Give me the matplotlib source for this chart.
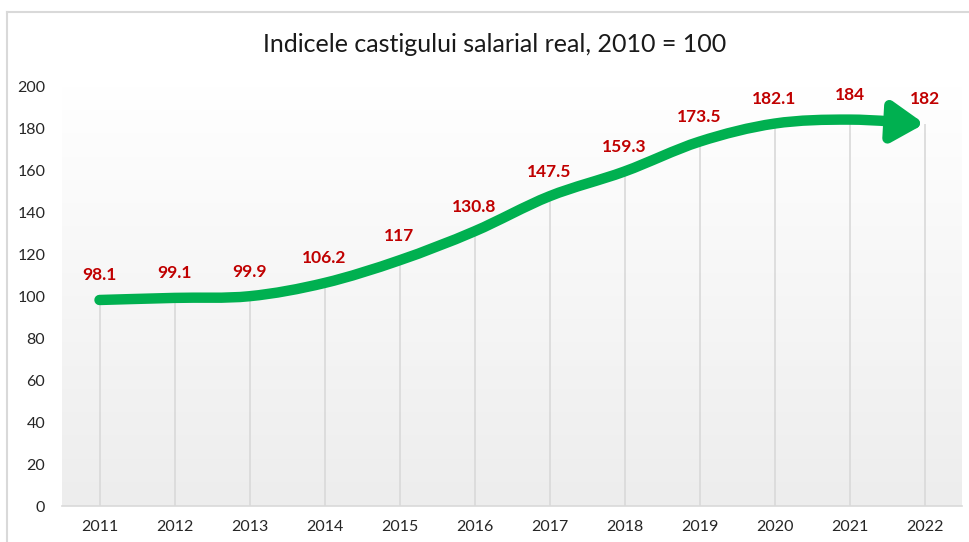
import numpy as np
import matplotlib.pyplot as plt
from matplotlib.path import Path
from matplotlib.patches import FancyArrowPatch, ArrowStyle
from matplotlib.lines import Line2D

YEARS = ["2011", "2012", "2013", "2014", "2015", "2016",
         "2017", "2018", "2019", "2020", "2021", "2022"]
VALUES = [98.1, 99.1, 99.9, 106.2, 117, 130.8,
          147.5, 159.3, 173.5, 182.1, 184, 182]
LABELS = ["98.1", "99.1", "99.9", "106.2", "117", "130.8",
          "147.5", "159.3", "173.5", "182.1", "184", "182"]
Y_TICKS = [0, 20, 40, 60, 80, 100, 120, 140, 160, 180, 200]
TITLE = "Indicele castigului salarial real, 2010 = 100"

GREEN = "#00B050"
RED = "#C00000"
GRID = "#D9D9D9"

plt.rcParams['font.family'] = ['Lato', 'DejaVu Sans']


def smooth_path(xs, ys):
    # Catmull-Rom -> Bezier, like Excel's smoothed line
    pts = np.column_stack([xs, ys]).astype(float)
    verts = [pts[0]]
    codes = [Path.MOVETO]
    n = len(pts)
    for i in range(n - 1):
        p0 = pts[i - 1] if i > 0 else pts[i]
        p1 = pts[i]
        p2 = pts[i + 1]
        p3 = pts[i + 2] if i + 2 < n else pts[i + 1]
        c1 = p1 + (p2 - p0) / 6.0
        c2 = p2 - (p3 - p1) / 6.0
        verts += [c1, c2, p2]
        codes += [Path.CURVE4] * 3
    return Path(verts, codes)


fig = plt.figure(figsize=(9.69, 5.42), dpi=100)
ax = fig.add_axes([62 / 969, 36 / 542, 900 / 969, 420 / 542])

x = np.arange(len(YEARS))

# gradient background of the plot area
grad = np.linspace(0, 1, 256).reshape(-1, 1)
ax.imshow(grad, extent=[0, 1, 0, 1], transform=ax.transAxes, aspect='auto',
          cmap=plt.matplotlib.colors.LinearSegmentedColormap.from_list(
              "bg", ["#EDEDED", "#FFFFFF"]), origin='lower', zorder=0)

# drop lines
ax.vlines(x, 0, VALUES, color=GRID, lw=1.2, zorder=1)

# green arrow curve
arrow = FancyArrowPatch(path=smooth_path(x, VALUES),
                        arrowstyle=ArrowStyle('-|>', head_length=19, head_width=12),
                        mutation_scale=1, shrinkA=0, shrinkB=0,
                        color=GREEN, lw=7.5, capstyle='round',
                        joinstyle='round', zorder=3)
ax.add_patch(arrow)

for xi, v, lab in zip(x, VALUES, LABELS):
    ax.annotate(lab, (xi, v), xytext=(0, 12), textcoords='offset points',
                ha='center', va='bottom', color=RED, fontsize=12.5,
                fontweight='bold', zorder=4)

ax.set_xlim(-0.5, len(YEARS) - 0.5)
ax.set_ylim(0, 200)
ax.set_xticks(x)
ax.set_xticklabels(YEARS)
ax.set_yticks(Y_TICKS)
ax.tick_params(axis='both', length=0, labelsize=11.5, colors='#262626')
ax.tick_params(axis='x', pad=10)
ax.tick_params(axis='y', pad=12)
for s in ['top', 'right', 'left']:
    ax.spines[s].set_visible(False)
ax.spines['bottom'].set_color(GRID)
ax.spines['bottom'].set_linewidth(1.2)

fig.text(495 / 969, 1 - 45 / 542, TITLE, ha='center', va='center',
         fontsize=18, color='#1a1a1a')

# chart border (top and left visible)
fig.add_artist(Line2D([7 / 969, 1], [1 - 12 / 542, 1 - 12 / 542],
                      transform=fig.transFigure, color=GRID, lw=1.5))
fig.add_artist(Line2D([7 / 969, 7 / 969], [0, 1 - 12 / 542],
                      transform=fig.transFigure, color=GRID, lw=1.5))

fig.savefig("out.png", dpi=100)
